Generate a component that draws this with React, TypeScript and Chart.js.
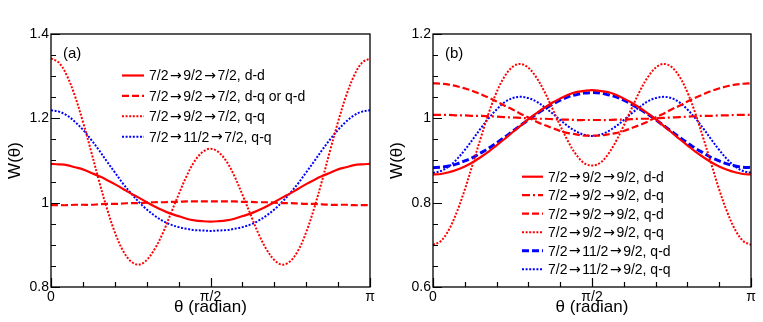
import React, { useEffect, useRef } from "react";
import { Chart, registerables } from "chart.js";

Chart.register(...registerables);

// θ in degrees (0 .. 180 = 0 .. π)
const thetaDeg = [0, 4.5, 9, 13.5, 18, 22.5, 27, 31.5, 36, 40.5, 45, 49.5, 54, 58.5, 63, 67.5, 72, 76.5, 81, 85.5, 90, 94.5, 99, 103.5, 108, 112.5, 117, 121.5, 126, 130.5, 135, 139.5, 144, 148.5, 153, 157.5, 162, 166.5, 171, 175.5, 180];

const xTickValues = [0, 18, 36, 54, 72, 90, 108, 126, 144, 162, 180];
const xTickText = ["0", "", "", "", "", "π/2", "", "", "", "", "π"];

const yTicksA = [0.8, 0.85, 0.9, 0.95, 1, 1.05, 1.1, 1.15, 1.2, 1.25, 1.3, 1.35, 1.4];
const yTickTextA = ["0.8", "", "", "", "1", "", "", "", "1.2", "", "", "", "1.4"];
const yTicksB = [0.6, 0.65, 0.7, 0.75, 0.8, 0.85, 0.9, 0.95, 1, 1.05, 1.1, 1.15, 1.2];
const yTickTextB = ["0.6", "", "", "", "0.8", "", "", "", "1", "", "", "", "1.2"];

// Panel (a): 7/2 -> J -> 7/2
const a_dd = [1.092, 1.091, 1.089, 1.084, 1.079, 1.071, 1.063, 1.054, 1.044, 1.033, 1.022, 1.012, 1.001, 0.991, 0.982, 0.974, 0.968, 0.962, 0.958, 0.956, 0.955, 0.956, 0.958, 0.962, 0.968, 0.974, 0.982, 0.991, 1.001, 1.012, 1.022, 1.033, 1.044, 1.054, 1.063, 1.071, 1.079, 1.084, 1.089, 1.091, 1.092];
const a_dq = [0.994, 0.994, 0.994, 0.995, 0.995, 0.995, 0.996, 0.997, 0.997, 0.998, 0.999, 0.999, 1.0, 1.001, 1.001, 1.002, 1.002, 1.003, 1.003, 1.003, 1.003, 1.003, 1.003, 1.003, 1.002, 1.002, 1.001, 1.001, 1.0, 0.999, 0.999, 0.998, 0.997, 0.997, 0.996, 0.995, 0.995, 0.995, 0.994, 0.994, 0.994];
const a_qq = [1.342, 1.332, 1.301, 1.253, 1.192, 1.124, 1.053, 0.987, 0.93, 0.887, 0.861, 0.853, 0.864, 0.89, 0.927, 0.973, 1.019, 1.063, 1.098, 1.12, 1.128, 1.12, 1.098, 1.063, 1.019, 0.973, 0.927, 0.89, 0.864, 0.853, 0.861, 0.887, 0.93, 0.987, 1.053, 1.124, 1.192, 1.253, 1.301, 1.332, 1.342];
const a_qq11 = [1.219, 1.216, 1.207, 1.192, 1.173, 1.15, 1.125, 1.098, 1.072, 1.046, 1.023, 1.002, 0.984, 0.969, 0.957, 0.948, 0.942, 0.938, 0.935, 0.934, 0.933, 0.934, 0.935, 0.938, 0.942, 0.948, 0.957, 0.969, 0.984, 1.002, 1.023, 1.046, 1.072, 1.098, 1.125, 1.15, 1.173, 1.192, 1.207, 1.216, 1.219];

// Panel (b): 7/2 -> J -> 9/2
const b_dd = [0.867, 0.868, 0.872, 0.878, 0.886, 0.896, 0.908, 0.921, 0.936, 0.951, 0.967, 0.982, 0.998, 1.012, 1.025, 1.037, 1.047, 1.056, 1.062, 1.065, 1.067, 1.065, 1.062, 1.056, 1.047, 1.037, 1.025, 1.012, 0.998, 0.982, 0.967, 0.951, 0.936, 0.921, 0.908, 0.896, 0.886, 0.878, 0.872, 0.868, 0.867];
const b_dq = [1.008, 1.008, 1.008, 1.007, 1.007, 1.006, 1.006, 1.005, 1.004, 1.003, 1.002, 1.001, 1.0, 0.999, 0.999, 0.998, 0.997, 0.997, 0.996, 0.996, 0.996, 0.996, 0.996, 0.997, 0.997, 0.998, 0.999, 0.999, 1.0, 1.001, 1.002, 1.003, 1.004, 1.005, 1.006, 1.006, 1.007, 1.007, 1.008, 1.008, 1.008];
const b_qd = [1.083, 1.082, 1.08, 1.076, 1.071, 1.065, 1.057, 1.049, 1.04, 1.03, 1.021, 1.011, 1.002, 0.992, 0.984, 0.977, 0.97, 0.965, 0.962, 0.959, 0.959, 0.959, 0.962, 0.965, 0.97, 0.977, 0.984, 0.992, 1.002, 1.011, 1.021, 1.03, 1.04, 1.049, 1.057, 1.065, 1.071, 1.076, 1.08, 1.082, 1.083];
const b_qq = [0.7, 0.709, 0.736, 0.778, 0.831, 0.892, 0.953, 1.012, 1.062, 1.099, 1.122, 1.129, 1.12, 1.097, 1.064, 1.024, 0.983, 0.945, 0.914, 0.894, 0.888, 0.894, 0.914, 0.945, 0.983, 1.024, 1.064, 1.097, 1.12, 1.129, 1.122, 1.099, 1.062, 1.012, 0.953, 0.892, 0.831, 0.778, 0.736, 0.709, 0.7];
const b_qd11 = [0.883, 0.884, 0.887, 0.892, 0.899, 0.907, 0.918, 0.929, 0.942, 0.955, 0.969, 0.983, 0.997, 1.01, 1.022, 1.033, 1.043, 1.051, 1.056, 1.06, 1.061, 1.06, 1.056, 1.051, 1.043, 1.033, 1.022, 1.01, 0.997, 0.983, 0.969, 0.955, 0.942, 0.929, 0.918, 0.907, 0.899, 0.892, 0.887, 0.884, 0.883];
const b_qq11 = [0.871, 0.875, 0.886, 0.903, 0.925, 0.95, 0.976, 1.0, 1.021, 1.038, 1.048, 1.051, 1.048, 1.04, 1.027, 1.012, 0.996, 0.981, 0.969, 0.961, 0.958, 0.961, 0.969, 0.981, 0.996, 1.012, 1.027, 1.04, 1.048, 1.051, 1.048, 1.038, 1.021, 1.0, 0.976, 0.95, 0.925, 0.903, 0.886, 0.875, 0.871];

const labelsA = ["7/2→9/2→7/2, d-d", "7/2→9/2→7/2, d-q or q-d", "7/2→9/2→7/2, q-q", "7/2→11/2→7/2, q-q"];
const labelsB = ["7/2→9/2→9/2, d-d", "7/2→9/2→9/2, d-q", "7/2→9/2→9/2, q-d", "7/2→9/2→9/2, q-q", "7/2→11/2→9/2, q-d", "7/2→11/2→9/2, q-q"];

const FONT = "'Liberation Sans', Arial, Helvetica, sans-serif";
const ARROW_FONT = "'DejaVu Sans', sans-serif";
const RED = "rgb(255,0,0)";
const BLUE = "rgb(0,0,255)";

function drawRichLabel(ctx: any, text: string, x: number, y: number, size: number) {
  const parts = text.split("→");
  let cx = x;
  parts.forEach((p, i) => {
    ctx.font = `${size}px ${FONT}`;
    ctx.fillText(p, cx, y);
    cx += ctx.measureText(p).width;
    if (i < parts.length - 1) {
      ctx.font = `${size}px ${ARROW_FONT}`;
      ctx.fillText("→", cx + 1.5, y);
      cx += ctx.measureText("→").width + 3;
    }
  });
}

const rootPlugin = {
  id: "rootStyle",
  afterDraw(chart: any, _args: any, opts: any) {
    const { ctx, chartArea: ca } = chart;
    ctx.save();
    ctx.strokeStyle = "#000";
    ctx.lineWidth = 1.3;
    ctx.setLineDash([]);
    ctx.strokeRect(ca.left, ca.top, ca.right - ca.left, ca.bottom - ca.top);
    const xs = chart.scales.x;
    const ys = chart.scales.y;
    ctx.lineWidth = 1.2;
    ctx.beginPath();
    xs.ticks.forEach((t: any) => {
      const px = Math.round(xs.getPixelForValue(t.value)) + 0.5;
      const len = t.label ? 9 : 5;
      ctx.moveTo(px, ca.bottom);
      ctx.lineTo(px, ca.bottom - len);
    });
    ys.ticks.forEach((t: any) => {
      const py = Math.round(ys.getPixelForValue(t.value)) + 0.5;
      const len = t.label ? 9 : 5;
      ctx.moveTo(ca.left, py);
      ctx.lineTo(ca.left + len, py);
    });
    ctx.stroke();

    // legend
    const lg = opts.legend;
    ctx.textBaseline = "middle";
    ctx.textAlign = "left";
    chart.data.datasets.forEach((ds: any, i: number) => {
      const y = ca.top + lg.dy0 + i * lg.rowH;
      const x0 = ca.left + lg.dx;
      ctx.strokeStyle = ds.borderColor;
      ctx.lineWidth = ds.borderWidth;
      ctx.setLineDash(ds.borderDash || []);
      ctx.beginPath();
      ctx.moveTo(x0, y);
      ctx.lineTo(x0 + lg.sampleW, y);
      ctx.stroke();
      ctx.setLineDash([]);
      ctx.fillStyle = "#000";
      drawRichLabel(ctx, ds.label, x0 + lg.sampleW + lg.gap, y + 1, lg.fontSize);
    });

    // panel label
    ctx.font = `15px ${FONT}`;
    ctx.fillStyle = "#000";
    ctx.fillText(opts.panel, ca.left + 12, ca.top + 20);
    ctx.restore();
  },
};

function makeConfig(series: any[], yMin: number, yMax: number, yTicks: number[], yText: string[], panel: string, legend: any) {
  return {
    type: "line",
    data: {
      datasets: series.map((s) => ({
        label: s.label,
        data: s.values.map((v: number, i: number) => ({ x: thetaDeg[i], y: v })),
        borderColor: s.color,
        backgroundColor: s.color,
        borderWidth: s.width,
        borderDash: s.dash,
        pointRadius: 0,
        fill: false,
        tension: 0.35,
      })),
    },
    options: {
      animation: false,
      responsive: false,
      events: [],
      layout: { padding: { top: 34, right: 12, left: 0, bottom: 0 } },
      plugins: {
        legend: { display: false },
        tooltip: { enabled: false },
        rootStyle: { legend, panel },
      },
      scales: {
        x: {
          type: "linear",
          min: 0,
          max: 180,
          grid: { display: false, drawTicks: false },
          border: { display: false },
          afterBuildTicks: (scale: any) => {
            scale.ticks = xTickValues.map((v) => ({ value: v }));
          },
          afterFit: (scale: any) => {
            scale.height = 35;
          },
          ticks: {
            autoSkip: false,
            maxRotation: 0,
            padding: 2,
            color: "#000",
            font: { size: 14, family: FONT },
            callback: (_v: any, i: number) => xTickText[i],
          },
          title: {
            display: true,
            text: "θ (radian)",
            color: "#000",
            font: { size: 17, family: FONT },
            padding: { top: 0, bottom: 4 },
          },
        },
        y: {
          type: "linear",
          min: yMin,
          max: yMax,
          grid: { display: false, drawTicks: false },
          border: { display: false },
          afterBuildTicks: (scale: any) => {
            scale.ticks = yTicks.map((v) => ({ value: v }));
          },
          afterFit: (scale: any) => {
            scale.width = 51;
          },
          ticks: {
            autoSkip: false,
            padding: 2,
            color: "#000",
            font: { size: 14, family: FONT },
            callback: (_v: any, i: number) => yText[i],
          },
          title: {
            display: true,
            text: "W(θ)",
            color: "#000",
            font: { size: 17, family: FONT },
            padding: { top: 5, bottom: 0 },
          },
        },
      },
    },
    plugins: [rootPlugin],
  };
}

export default function App() {
  const refA = useRef<HTMLCanvasElement | null>(null);
  const refB = useRef<HTMLCanvasElement | null>(null);

  useEffect(() => {
    Chart.defaults.font.family = FONT;
    const seriesA = [
      { label: labelsA[0], values: a_dd, color: RED, width: 2.2, dash: [] },
      { label: labelsA[1], values: a_dq, color: RED, width: 2.2, dash: [7, 3] },
      { label: labelsA[2], values: a_qq, color: RED, width: 2, dash: [2, 1.6] },
      { label: labelsA[3], values: a_qq11, color: BLUE, width: 2, dash: [2, 1.6] },
    ];
    const seriesB = [
      { label: labelsB[0], values: b_dd, color: RED, width: 2.2, dash: [] },
      { label: labelsB[1], values: b_dq, color: RED, width: 2.2, dash: [8, 3, 2, 3] },
      { label: labelsB[2], values: b_qd, color: RED, width: 2.2, dash: [7, 3] },
      { label: labelsB[3], values: b_qq, color: RED, width: 2, dash: [2, 1.6] },
      { label: labelsB[4], values: b_qd11, color: BLUE, width: 3, dash: [7, 3] },
      { label: labelsB[5], values: b_qq11, color: BLUE, width: 2, dash: [2, 1.6] },
    ];
    const chartA = new Chart(
      refA.current as HTMLCanvasElement,
      makeConfig(seriesA, 0.8, 1.4, yTicksA, yTickTextA, "(a)", { dx: 71, sampleW: 22, gap: 5, dy0: 41.5, rowH: 20.4, fontSize: 14 }) as any
    );
    const chartB = new Chart(
      refB.current as HTMLCanvasElement,
      makeConfig(seriesB, 0.6, 1.2, yTicksB, yTickTextB, "(b)", { dx: 89, sampleW: 21, gap: 5, dy0: 142.7, rowH: 18.5, fontSize: 14 }) as any
    );
    return () => {
      chartA.destroy();
      chartB.destroy();
    };
  }, []);

  return (
    <div style={{ position: "fixed", left: 0, top: 0, width: 763, height: 322, background: "#fff" }}>
      <canvas ref={refA} width={382} height={322} style={{ position: "absolute", left: 0, top: 0, width: 382, height: 322 }} />
      <canvas ref={refB} width={381} height={322} style={{ position: "absolute", left: 382, top: 0, width: 381, height: 322 }} />
    </div>
  );
}
